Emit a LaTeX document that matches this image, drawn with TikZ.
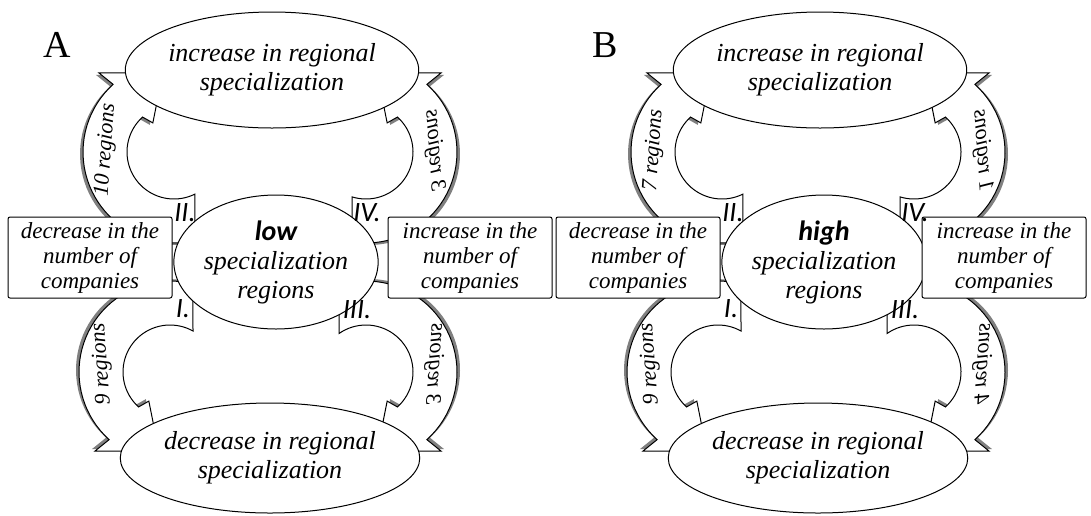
\documentclass[tikz,border=0pt]{standalone}
\usepackage{fontspec}
\setmainfont{Liberation Serif}
\newfontfamily\numfont{Carlito}
\usetikzlibrary{shapes.geometric}
\newcommand\Ro{91}
\newcommand\Ri{47}
% band arrow: #1 cx, #2 cy, #3 outer tail angle, #4 inner tail angle, #5 end angle, #6 direction (+1/-1), #7 options
\newcommand\bandarrow[7]{%
  \filldraw[#7] plot[domain=#3:#5,samples=40] ({#1+\Ro*cos(\x)},{#2+\Ro*sin(\x)})
    -- ({#1+(\Ro+18)*cos(#5-1.5*(#6))},{#2+(\Ro+18)*sin(#5-1.5*(#6))})
    -- ({#1+80*cos(#5+34*(#6))},{#2+80*sin(#5+34*(#6))})
    -- ({#1+36*cos(#5+6*(#6))},{#2+36*sin(#5+6*(#6))})
    -- plot[domain=#5:#4,samples=40] ({#1+\Ri*cos(\x)},{#2+\Ri*sin(\x)})
    -- cycle;}
% panel: #1 xshift, #2 prefix, #3 letter, #4 centre word, #5 ul, #6 ur, #7 ll, #8 lr, #9 right box centre x
\newcommand\drawpanel[9]{%
\begin{scope}[xshift=#1pt, name prefix=#2-]
  % shadows
  \bandarrow{174}{152}{76.7}{63.5}{228}{1}{shadowfill, xshift=-3pt, yshift=-2pt}
  \bandarrow{366}{152}{98.8}{107.3}{-48}{-1}{shadowfill, xshift=3pt, yshift=-2pt}
  \bandarrow{170}{372}{284.6}{299.3}{132}{-1}{shadowfill, xshift=-3pt, yshift=2pt}
  \bandarrow{366}{372}{252.7}{235}{408}{1}{shadowfill, xshift=3pt, yshift=2pt}
  % arrows
  \bandarrow{174}{152}{76.7}{63.5}{228}{1}{bandstyle}
  \bandarrow{366}{152}{98.8}{107.3}{-48}{-1}{bandstyle}
  \bandarrow{170}{372}{284.6}{299.3}{132}{-1}{bandstyle}
  \bandarrow{366}{372}{252.7}{235}{408}{1}{bandstyle}
  % labels on arrows (right-hand ones are mirror images, as in the reference)
  \node[reglbl, rotate=86] (ul) at (106,150) {#5};
  \node[reglbl, xscale=-1, rotate=86] (ur) at (434,150) {#6};
  \node[reglbl, rotate=94] (ll) at (102,364) {#7};
  \node[reglbl, xscale=-1, rotate=94] (lr) at (434,364) {#8};
  % ellipses and boxes
  \node[ell, minimum width=264pt, minimum height=116pt] (top) at (272,70) {increase in regional\\specialization};
  \node[ell, minimum width=196pt, minimum height=134pt] (mid) at (276,262) {{\numfont\bfseries\itshape\fontsize{28}{30}\selectfont #4}\\specialization\\regions};
  \node[ell, minimum width=270pt, minimum height=110pt] (bot) at (270,458) {decrease in regional\\specialization};
  \node[box] (lbox) at (90,257.5) {decrease in the\\number of\\companies};
  \node[box] (rbox) at (#9,257.5) {increase in the\\number of\\companies};
  \node[numlbl] (n2) at (185,213) {II.};
  \node[numlbl] (n4) at (367,213) {IV.};
  \node[numlbl] (n1) at (183,309) {I.};
  \node[numlbl] (n3) at (357,310) {III.};
  \node[panellbl] (lab) at (57,45) {#3};
\end{scope}}
\begin{document}
\begin{tikzpicture}[x=1pt,y=-1pt,
  shadowfill/.style={fill=black!50, draw=none},
  bandstyle/.style={fill=white, draw=black, line width=1pt, line join=miter},
  ell/.style={ellipse, draw, fill=white, line width=1pt, inner sep=0pt, align=center,
    font=\itshape\fontsize{26}{29}\selectfont},
  box/.style={rectangle, rounded corners=2pt, draw, fill=white, line width=1pt, inner sep=0pt,
    minimum width=164pt, minimum height=81pt, align=center, font=\itshape\fontsize{23}{25}\selectfont},
  numlbl/.style={inner sep=0pt, font=\numfont\itshape\fontsize{28}{30}\selectfont},
  reglbl/.style={inner sep=0pt, font=\itshape\fontsize{22}{24}\selectfont},
  panellbl/.style={inner sep=0pt, font=\fontsize{38}{40}\selectfont}]
\fill[white] (0,0) rectangle (1091,515);
\useasboundingbox (0,0) rectangle (1091,515);
\drawpanel{0}{A}{A}{low}{10 regions}{3 regions}{9 regions}{3 regions}{470}
\drawpanel{548}{B}{B}{high}{7 regions}{1 regions}{9 regions}{4 regions}{456}
\end{tikzpicture}
\end{document}
